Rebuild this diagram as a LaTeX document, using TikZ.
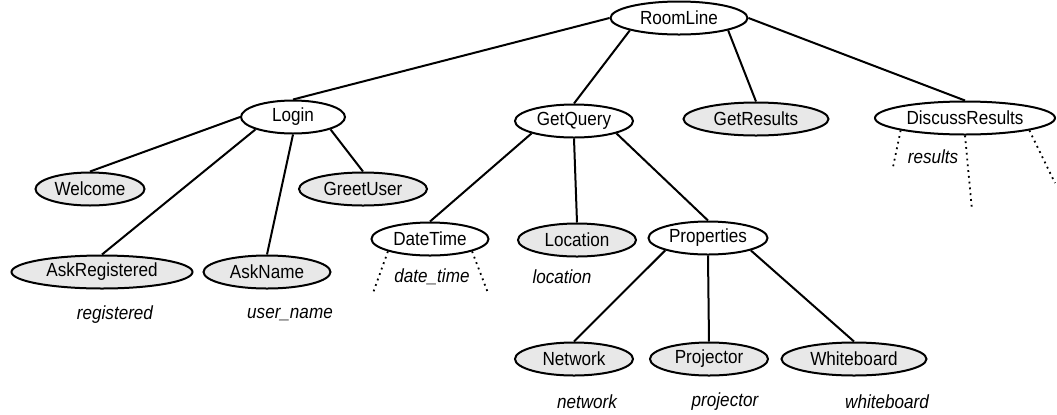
\documentclass[tikz,border=0pt]{standalone}
\usepackage{fontspec}
\setmainfont{Liberation Sans}[FakeStretch=0.9]
\usetikzlibrary{shapes.geometric}
\definecolor{leafgray}{RGB}{232,232,232}

\begin{document}
\begin{tikzpicture}[line width=1pt, x=0.5pt, y=-0.5pt,
    font=\fontsize{9.5}{11}\selectfont]
\tikzstyle{agency}=[draw, ellipse, fill=white, inner sep=0pt, minimum height=16.5pt]
\tikzstyle{agent}=[agency, fill=leafgray]
\tikzstyle{slot}=[font=\fontsize{9.5}{11}\selectfont\itshape]
\tikzstyle{fan}=[dotted, line width=0.9pt]

\useasboundingbox (0,0) rectangle (1057,414);

\node[agency, minimum width=68.5pt] (R) at (679, 18) {RoomLine};
\node[agency, minimum width=52pt]   (L) at (293,117) {Login};
\node[agency, minimum width=59pt]   (Q) at (574,121) {GetQuery};
\node[agent,  minimum width=72.5pt] (G) at (756,119) {GetResults};
\node[agency, minimum width=90pt]   (D) at (965,118) {DiscussResults};
\node[agent,  minimum width=54.5pt] (W) at ( 90,189) {Welcome};
\node[agent,  minimum width=64pt]   (U) at (363,189) {GreetUser};
\node[agent,  minimum width=90.5pt] (AR) at (102,272) {AskRegistered};
\node[agent,  minimum width=63.5pt] (AN) at (267,272) {AskName};
\node[agency, minimum width=58.5pt] (T) at (430,239) {DateTime};
\node[agent,  minimum width=59pt]   (O) at (577,240) {Location};
\node[agency, minimum width=59.5pt] (P) at (708,238) {Properties};
\node[agent,  minimum width=59pt]   (N) at (574,359) {Network};
\node[agent,  minimum width=59pt]   (J) at (709,359) {Projector};
\node[agent,  minimum width=72.5pt] (B) at (854,359) {Whiteboard};

\node[slot] (s1) at (115,315) {registered};
\node[slot] (s2) at (290,315) {user\_name};
\node[slot] (s3) at (432,277) {date\_time};
\node[slot] (s4) at (562,277) {location};
\node[slot] (s5) at (933,157) {results};
\node[slot] (s6) at (587,402) {network};
\node[slot] (s7) at (725,402) {projector};
\node[slot] (s8) at (887,402) {whiteboard};

\draw (R.west) -- (L.north);
\draw (R.south west) -- (Q.north);
\draw (R.south east) -- (G.north);
\draw (R.east) -- (D.north);
\draw (L.west) -- (W.north);
\draw (L.south west) -- (AR.north);
\draw (L.south) -- (AN.north);
\draw (L.south east) -- (U.north);
\draw (Q.south west) -- (T.north);
\draw (Q.south) -- (O.north);
\draw (Q.south east) -- (P.north);
\draw (P.south west) -- (N.north);
\draw (P.south) -- (J.north);
\draw (P.south east) -- (B.north);

% open slots
\coordinate (t1) at (373,293);
\coordinate (t2) at (488,293);
\coordinate (d1) at (893,167);
\coordinate (d2) at (972,210);
\coordinate (d3) at (1055,183);
\draw[fan] (T.south west) -- (t1);
\draw[fan] (T.south east) -- (t2);
\draw[fan] (D.south west) -- (d1);
\draw[fan] (D.south) -- (d2);
\draw[fan] (D.south east) -- (d3);
\end{tikzpicture}
\end{document}
